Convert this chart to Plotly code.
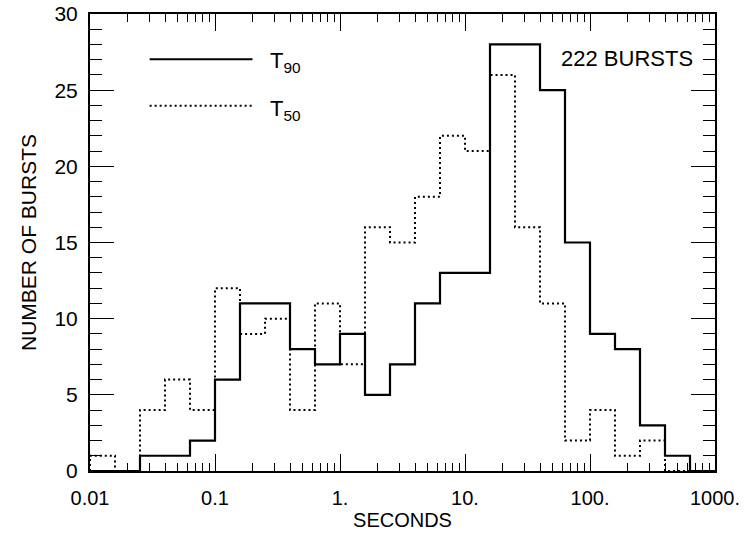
import plotly.graph_objects as go

# Bin edges in log10(seconds): 5 bins per decade from 0.01 s to 1000 s
log_edges = [-2.0, -1.8, -1.6, -1.4, -1.2, -1.0, -0.8, -0.6, -0.4, -0.2,
             0.0, 0.2, 0.4, 0.6, 0.8, 1.0, 1.2, 1.4, 1.6, 1.8,
             2.0, 2.2, 2.4, 2.6, 2.8, 3.0]

t90_counts = [0, 0, 1, 1, 2, 6, 11, 11, 8, 7, 9, 5, 7, 11, 13, 13,
              28, 28, 25, 15, 9, 8, 3, 1, 0]
t50_counts = [1, 0, 4, 6, 4, 12, 9, 10, 4, 11, 7, 16, 15, 18, 22, 21,
              26, 16, 11, 2, 4, 1, 2, 0, 0]

x_tickvals = [0.01, 0.1, 1, 10, 100, 1000]
x_ticktext = ["0.01", "0.1", "1.", "10.", "100.", "1000."]

edges = [10 ** e for e in log_edges]


def step_xy(counts):
    xs = [edges[0]] + edges
    ys = [0] + counts + [0]
    return xs, ys


FONT = "Liberation Sans, Arial, sans-serif"
TXT = dict(family=FONT, size=20, color="black")
SOLID = dict(color="black", width=2.2)
DOTTED = dict(color="black", width=2, dash="2px,3px")

fig = go.Figure()
x90, y90 = step_xy(t90_counts)
fig.add_trace(go.Scatter(x=x90, y=y90, mode="lines", line_shape="hv",
                         line=SOLID, showlegend=False, hoverinfo="skip"))
x50, y50 = step_xy(t50_counts)
fig.add_trace(go.Scatter(x=x50, y=y50, mode="lines", line_shape="hv",
                         line=DOTTED, showlegend=False, hoverinfo="skip"))

# Hand-drawn legend samples (placed in the upper-left corner)
legend_x = [0.030, 0.1995]
fig.add_trace(go.Scatter(x=legend_x, y=[27.03, 27.03], mode="lines",
                         line=dict(color="black", width=2),
                         showlegend=False, hoverinfo="skip"))
fig.add_trace(go.Scatter(x=legend_x, y=[23.97, 23.97], mode="lines",
                         line=DOTTED, showlegend=False, hoverinfo="skip"))

fig.update_xaxes(type="log", range=[-2, 3], ticks="inside", ticklen=17,
                 tickcolor="black", tickvals=x_tickvals, ticktext=x_ticktext,
                 showline=True, linecolor="black", linewidth=2,
                 mirror="allticks", ticklabelstandoff=8, tickfont=TXT,
                 automargin=False, showgrid=False, zeroline=False,
                 minor=dict(ticks="inside", ticklen=8, tickcolor="black",
                            dtick="D1", showgrid=False),
                 title=dict(text="SECONDS", font=TXT, standoff=4))
fig.update_yaxes(range=[0, 30], dtick=5, ticks="inside", ticklen=24,
                 tickcolor="black", showline=True, linecolor="black",
                 linewidth=2, mirror="allticks", ticklabelstandoff=6,
                 automargin=False, showgrid=False, zeroline=False,
                 tickfont=dict(family=FONT, size=21, color="black"),
                 minor=dict(ticks="inside", ticklen=12, dtick=1,
                            tickcolor="black", showgrid=False),
                 title=dict(text="NUMBER OF BURSTS",
                            font=dict(family=FONT, size=21, color="black"),
                            standoff=12))

fig.add_annotation(xref="paper", yref="paper", x=0.284, y=0.896,
                   xanchor="left", yanchor="middle", showarrow=False,
                   text="T<sub>90</sub>",
                   font=dict(family=FONT, size=22, color="black"))
fig.add_annotation(xref="paper", yref="paper", x=0.284, y=0.791,
                   xanchor="left", yanchor="middle", showarrow=False,
                   text="T<sub>50</sub>",
                   font=dict(family=FONT, size=22, color="black"))
fig.add_annotation(xref="paper", yref="paper", x=0.968, y=0.903,
                   xanchor="right", yanchor="middle", showarrow=False,
                   text="222 BURSTS",
                   font=dict(family=FONT, size=22, color="black"))

fig.update_layout(width=754, height=541,
                  margin=dict(l=90, r=39, t=14, b=70),
                  plot_bgcolor="white", showlegend=False)

fig.write_html("out.html")
